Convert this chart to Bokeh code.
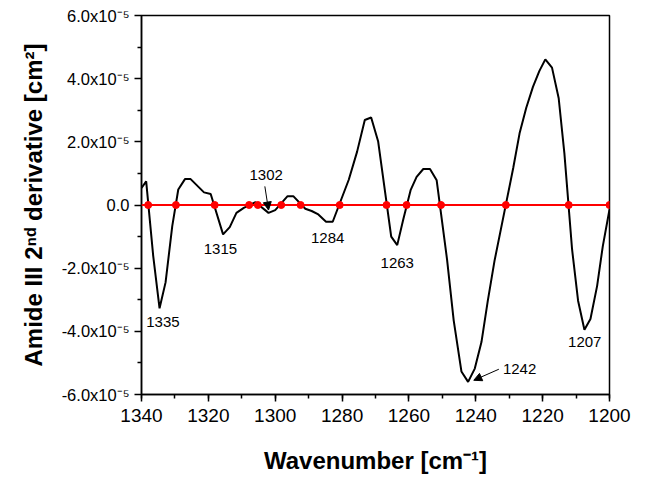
from bokeh.plotting import figure
from bokeh.models import (Range1d, SingleIntervalTicker, FixedTicker, Span, Arrow, NormalHead,
                          ColumnDataSource, CustomJSTickFormatter)
from bokeh.core.properties import value
from bokeh.embed import file_html
from bokeh.resources import INLINE

# ---- data ----
wavenumber = [1340.0, 1338.6, 1336.5, 1334.6, 1332.8, 1330.8, 1329.0, 1327.0, 1325.3,
              1321.3, 1319.3, 1315.6, 1313.6, 1311.6, 1309.4, 1305.9, 1302.0, 1300.0,
              1296.3, 1294.6, 1291.0, 1289.1, 1287.1, 1284.8, 1282.8, 1278.0, 1275.5,
              1273.2, 1271.3, 1269.2, 1265.3, 1263.5, 1261.7, 1259.5, 1257.7, 1255.7,
              1253.7, 1251.7, 1248.6, 1246.6, 1244.3, 1242.3, 1240.3, 1238.3, 1236.4,
              1234.4, 1228.8, 1226.9, 1224.9, 1222.9, 1221.0, 1219.2, 1217.2, 1215.2,
              1213.5, 1211.2, 1209.4, 1207.5, 1205.7, 1203.7, 1202.0, 1200.0]
second_derivative = [0.54e-5, 0.75e-5, -1.61e-5, -3.27e-5, -2.45e-5, -0.67e-5, 0.49e-5,
                     0.82e-5, 0.82e-5, 0.40e-5, 0.35e-5, -0.93e-5, -0.70e-5, -0.25e-5,
                     -0.09e-5, 0.09e-5, -0.25e-5, -0.16e-5, 0.28e-5, 0.28e-5, -0.12e-5,
                     -0.19e-5, -0.30e-5, -0.53e-5, -0.53e-5, 0.80e-5, 1.69e-5, 2.69e-5,
                     2.77e-5, 2.01e-5, -1.00e-5, -1.27e-5, -0.46e-5, 0.47e-5, 0.89e-5,
                     1.14e-5, 1.14e-5, 0.78e-5, -1.72e-5, -3.66e-5, -5.27e-5, -5.60e-5,
                     -5.18e-5, -4.34e-5, -3.03e-5, -1.77e-5, 1.17e-5, 2.27e-5, 3.08e-5,
                     3.74e-5, 4.24e-5, 4.61e-5, 4.35e-5, 3.38e-5, 1.64e-5, -1.40e-5,
                     -3.03e-5, -3.95e-5, -3.61e-5, -2.56e-5, -1.30e-5, -0.14e-5]

zero_crossings = [1338.0, 1329.7, 1318.1, 1307.8, 1305.2, 1298.2, 1292.4, 1280.7,
                  1266.7, 1260.7, 1250.4, 1231.0, 1212.2, 1200.0]
zero_values = [0.0] * len(zero_crossings)

peak_labels = ["1335", "1315", "1302", "1284", "1263", "1242", "1207"]
peak_label_x = [1333.6, 1316.4, 1302.7, 1284.3, 1263.5, 1226.9, 1207.4]
peak_label_y = [-3.69e-5, -1.40e-5, 0.96e-5, -1.06e-5, -1.84e-5, -5.20e-5, -4.34e-5]

# arrows: (x_start, y_start, x_end, y_end)
arrow_x_start = [1303.1, 1233.1]
arrow_y_start = [0.59e-5, -5.20e-5]
arrow_x_end = [1302.0, 1240.6]
arrow_y_end = [-0.16e-5, -5.55e-5]

x_ticks_interval = 20
y_major_ticks = [-6e-5, -4e-5, -2e-5, 0.0, 2e-5, 4e-5, 6e-5]
y_minor_ticks = [-5e-5, -3e-5, -1e-5, 1e-5, 3e-5, 5e-5]

FONT = "Liberation Sans"

p = figure(width=636, height=476, output_backend="svg", toolbar_location=None,
           x_range=Range1d(1340, 1200), y_range=Range1d(-6e-5, 6e-5),
           min_border_left=141, min_border_right=27, min_border_top=15,
           min_border_bottom=81, background_fill_color="white",
           border_fill_color="white")
p.grid.visible = False
p.outline_line_color = "black"
p.outline_line_width = 1.5
p.outline_line_alpha = 1.0

# curve
p.line(wavenumber, second_derivative, line_color="black", line_width=2)

# baseline + zero crossings
p.add_layout(Span(location=0, dimension="width", line_color="red", line_width=2))
p.scatter(zero_crossings, zero_values, size=7, marker="circle",
          fill_color="red", line_color="red")

# peak labels
src = ColumnDataSource(dict(x=peak_label_x, y=peak_label_y, t=peak_labels))
p.text(x="x", y="y", text="t", source=src, text_font=value(FONT),
       text_font_size="15px", text_align="center", text_baseline="middle",
       text_color="black")

for xs, ys, xe, ye in zip(arrow_x_start, arrow_y_start, arrow_x_end, arrow_y_end):
    p.add_layout(Arrow(x_start=xs, y_start=ys, x_end=xe, y_end=ye, line_width=1,
                       line_color="black",
                       end=NormalHead(size=8, fill_color="black", line_color="black")))

# axes
xa = p.xaxis[0]
xa.ticker = SingleIntervalTicker(interval=x_ticks_interval, num_minor_ticks=2)
ya = p.yaxis[0]
ya.ticker = FixedTicker(ticks=y_major_ticks, minor_ticks=y_minor_ticks)
ya.formatter = CustomJSTickFormatter(code="""
    if (Math.abs(tick) < 1e-12) { return "0.0"; }
    return (tick / 1e-5).toFixed(1) + "x10\u207B\u2075";
""")

for ax in (xa, ya):
    ax.axis_line_width = 1.5
    ax.major_tick_line_width = 1.5
    ax.minor_tick_line_width = 1.5
    ax.major_tick_in = 0
    ax.major_tick_out = 7
    ax.minor_tick_in = 0
    ax.minor_tick_out = 4
    ax.major_label_text_font = FONT
    ax.major_label_text_color = "black"
    ax.axis_label_text_font = FONT
    ax.axis_label_text_font_style = "bold"
    ax.axis_label_text_color = "black"

xa.major_label_text_font_size = "19px"
xa.major_label_standoff = 7
xa.axis_label = "Wavenumber [cm\u207B\u00B9]"
xa.axis_label_text_font_size = "24px"
xa.axis_label_standoff = 22

ya.major_label_text_font_size = "16.5px"
ya.major_label_standoff = 5
ya.axis_label = "Amide III 2\u207F\u1D48 derivative [cm\u00B2]"
ya.axis_label_text_font_size = "24px"
ya.axis_label_standoff = 12

open("out.html", "w").write(file_html(p, INLINE))
